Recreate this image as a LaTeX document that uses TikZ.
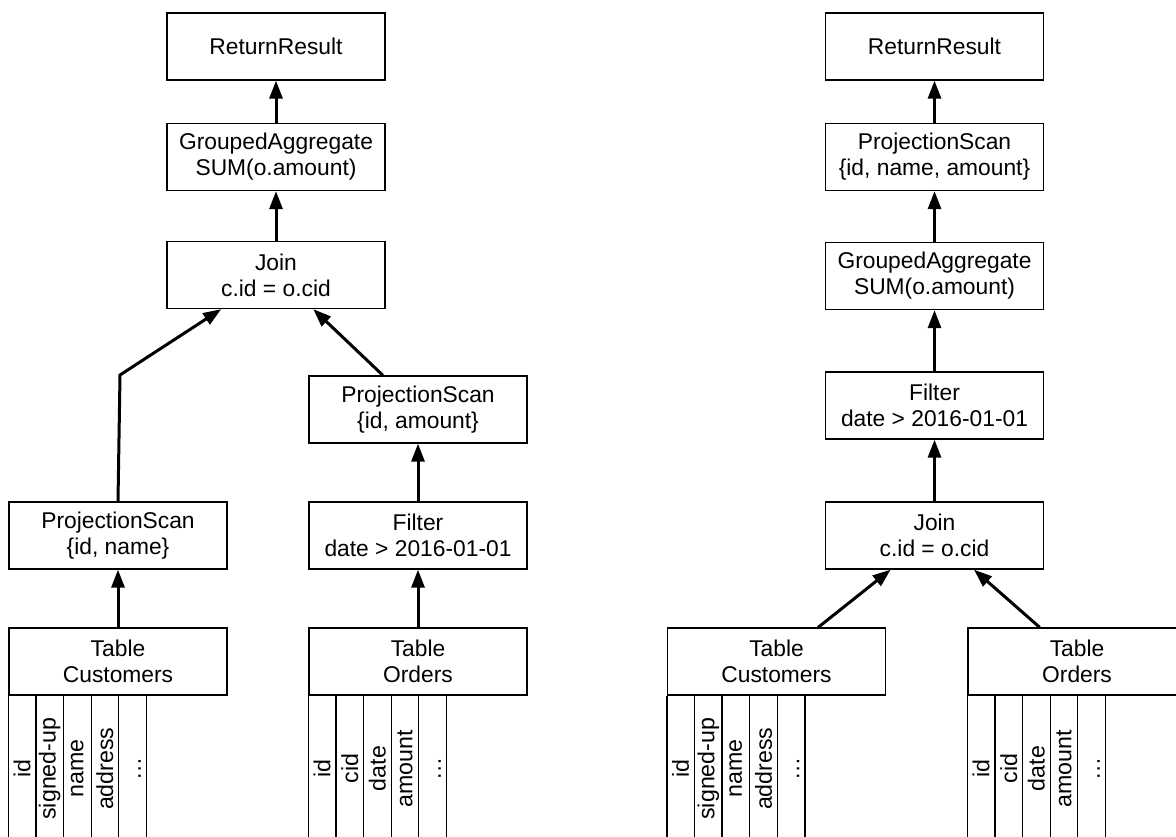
\documentclass[tikz,border=0pt]{standalone}
\usepackage{fontspec}
\setmainfont{Liberation Sans}
\usetikzlibrary{arrows.meta,calc}
\newcommand\colsof[2]{%
  \foreach \lbl [count=\i from 0] in {#2} {
    \draw[colline] ([xshift=\i*13.8pt]#1.south west) -- ++(0,-80pt);
    \node[collabel] at ([xshift=\i*13.8pt+6.9pt,yshift=-36.5pt]#1.south west) {\lbl};
  }
  \draw[colline] ([xshift=5*13.8pt]#1.south west) -- ++(0,-80pt);
}
\begin{document}
\begin{tikzpicture}[x=0.5pt,y=-0.5pt,
  box/.style={draw,line width=0.65pt,minimum width=109pt,minimum height=33.5pt,inner sep=0pt,align=center,font=\fontsize{11.4}{13}\selectfont},
  flow/.style={line width=1.5pt,-{Triangle[width=6.5pt,length=9pt]}},
  colline/.style={line width=0.65pt},
  collabel/.style={rotate=90,inner sep=0pt,font=\fontsize{11.6}{13}\selectfont}]
\clip (0,0) rectangle (1176,836);
% left plan
\node[box] (rr1) at (276,46.5) {ReturnResult};
\node[box] (ga1) at (276,157) {GroupedAggregate\\SUM(o.amount)};
\node[box] (jn1) at (276,275) {Join\\c.id = o.cid};
\node[box] (psa1) at (418,409.5) {ProjectionScan\\\{id, amount\}};
\node[box] (fl1) at (418,535.5) {Filter\\date > 2016-01-01};
\node[box] (psn1) at (118,535.5) {ProjectionScan\\\{id, name\}};
\node[box] (tc1) at (118,661.5) {Table\\Customers};
\node[box] (to1) at (418,661.5) {Table\\Orders};
\colsof{tc1}{id,signed-up,name,address,\vphantom{d}…}
\colsof{to1}{id,cid,date,amount,\vphantom{d}…}
\draw[flow] (ga1) -- (rr1);
\draw[flow] (jn1) -- (ga1);
\coordinate (bend1) at (120,375);
\draw[flow] (psn1.north) -- (bend1) -- ($(jn1.south west)!0.25!(jn1.south east)$);
\draw[flow] ($(psa1.north west)!0.34!(psa1.north east)$) -- ($(jn1.south west)!0.67!(jn1.south east)$);
\draw[flow] (fl1) -- (psa1);
\draw[flow] (to1) -- (fl1);
\draw[flow] (tc1) -- (psn1);
% right plan
\node[box] (rr2) at (934.5,46.5) {ReturnResult};
\node[box] (ps2) at (934.5,157) {ProjectionScan\\\{id, name, amount\}};
\node[box] (ga2) at (934.5,276) {GroupedAggregate\\SUM(o.amount)};
\node[box] (fl2) at (934.5,405.5) {Filter\\date > 2016-01-01};
\node[box] (jn2) at (934.5,535.5) {Join\\c.id = o.cid};
\node[box] (tc2) at (776.5,661.5) {Table\\Customers};
\node[box] (to2) at (1077,661.5) {Table\\Orders};
\colsof{tc2}{id,signed-up,name,address,\vphantom{d}…}
\colsof{to2}{id,cid,date,amount,\vphantom{d}…}
\draw[flow] (ps2) -- (rr2);
\draw[flow] (ga2) -- (ps2);
\draw[flow] (fl2) -- (ga2);
\draw[flow] (jn2) -- (fl2);
\draw[flow] ($(tc2.north west)!0.69!(tc2.north east)$) -- ($(jn2.south west)!0.30!(jn2.south east)$);
\draw[flow] ($(to2.north west)!0.33!(to2.north east)$) -- ($(jn2.south west)!0.68!(jn2.south east)$);
\end{tikzpicture}
\end{document}
